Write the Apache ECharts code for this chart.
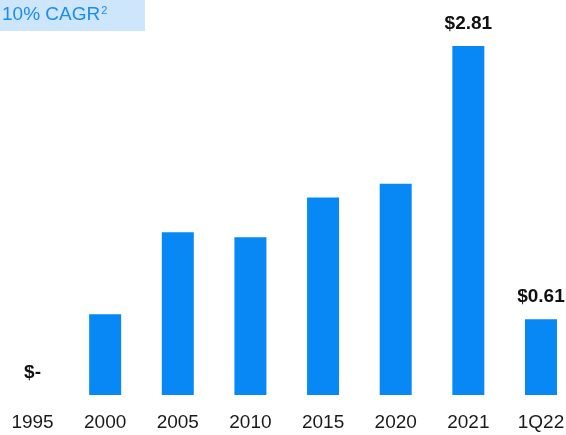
<!DOCTYPE html>
<html lang="en">
<head>
    <meta charset="UTF-8">
    <title>CAGR</title>
    <script src="https://cdn.jsdelivr.net/npm/echarts@6/dist/echarts.min.js"></script>
    <style>
        html, body { margin: 0; padding: 0; background: #fff; }
        #main { width: 566px; height: 435px; }
    </style>
</head>
<body>
<div id="main"></div>
<script type="text/javascript">
    // categories and values
    var years = ['1995', '2000', '2005', '2010', '2015', '2020', '2021', '1Q22'];
    var values = [0, 0.65, 1.31, 1.27, 1.59, 1.70, 2.81, 0.61];
    // only some bars carry a value label
    var barLabels = ['$-', '', '', '', '', '', '$2.81', '$0.61'];
    var headline = '10% CAGR';

    var sans = "'Liberation Sans', Arial, sans-serif";

    var myChart = echarts.init(document.getElementById('main'));

    var option = {
        animation: false,
        backgroundColor: '#ffffff',
        grid: {
            left: -3.8,
            right: -11.3,
            top: 22.4,
            bottom: 40,
            outerBoundsMode: 'none'
        },
        graphic: [{
            type: 'rect',
            left: 0,
            top: 0,
            shape: { width: 145, height: 31 },
            style: { fill: '#cde6fb' }
        }, {
            type: 'text',
            left: 2,
            top: 5,
            style: {
                text: headline + '{s|2}',
                fill: '#1b8cf2',
                fontSize: 19,
                fontFamily: sans,
                rich: {
                    s: { fontSize: 11, fontFamily: sans, fill: '#1b8cf2', padding: [0, 0, 8, 1] }
                }
            }
        }],
        xAxis: {
            type: 'category',
            data: years,
            axisLine: { show: false },
            axisTick: { show: false },
            axisLabel: {
                interval: 0,
                margin: 18,
                color: '#1a1a1a',
                fontSize: 19,
                fontFamily: sans
            }
        },
        yAxis: {
            type: 'value',
            min: 0,
            max: 3,
            show: false,
            splitLine: { show: false }
        },
        series: [{
            type: 'bar',
            data: values,
            barWidth: 32,
            itemStyle: { color: '#0788f4' },
            label: {
                show: true,
                position: 'top',
                distance: 13,
                color: '#111',
                fontSize: 19,
                fontWeight: 'bold',
                fontFamily: sans,
                formatter: function (p) {
                    return barLabels[p.dataIndex];
                }
            }
        }]
    };

    myChart.setOption(option);
</script>
</body>
</html>
